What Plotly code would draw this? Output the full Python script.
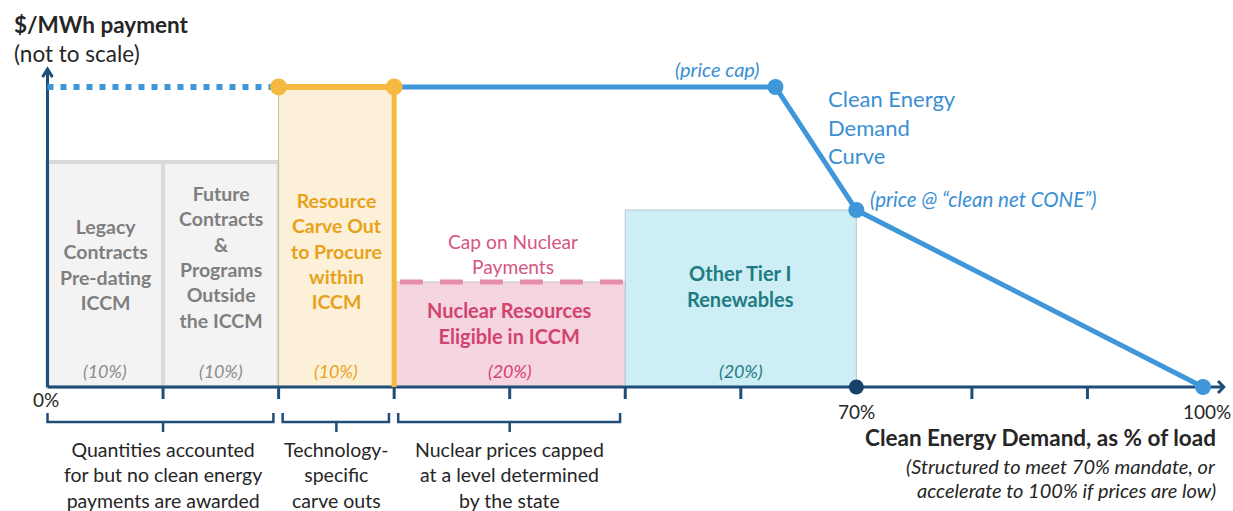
import plotly.graph_objects as go

# ---------------- data ----------------
seg_names = ["Legacy<br>Contracts<br>Pre-dating<br>ICCM",
             "Future<br>Contracts<br>&<br>Programs<br>Outside<br>the ICCM",
             "Resource<br>Carve Out<br>to Procure<br>within<br>ICCM",
             "Nuclear Resources<br>Eligible in ICCM",
             "Other Tier I<br>Renewables"]
seg_start = [0, 10, 20, 30, 50]
seg_width = [10, 10, 10, 20, 20]
seg_height = [75, 75, 100, 35, 59]
seg_share = ["(10%)", "(10%)", "(10%)", "(20%)", "(20%)"]
seg_label_y = [41, 43.3, 45.3, 21.3, 33.8]

price_cap = 100
nuclear_cap = 35
dotted_x = [0, 20]
carve_x = [20, 30]
curve_x = [30, 63, 70, 100]
curve_y = [100, 100, 59, 0]
curve_marker_x = [63, 70, 100]
curve_marker_y = [100, 59, 0]
mandate_x = 70

tick_values = [10, 20, 30, 40, 50, 60, 80, 90]
tick_labels = {0: "0%", 70: "70%", 100: "100%"}

bracket_ranges = [(0, 20), (20, 30), (30, 50)]
bracket_texts = ["Quantities accounted<br>for but no clean energy<br>payments are awarded",
                 "Technology-<br>specific<br>carve outs",
                 "Nuclear prices capped<br>at a level determined<br>by the state"]

x_title = "Clean Energy Demand, as % of load"
x_subtitle = ["(Structured to meet 70% mandate, or", "accelerate to 100% if prices are low)"]

# ---------------- style ----------------
FONT = "Lato"
NAVY = "#1F4E79"
BLUE = "#3F97DA"
BLUE_T = "#3A8FD3"
ORANGE = "#F5B942"
ORANGE_T = "#E8A21A"
GRAY_T = "#7F7F7F"
PINK_T = "#D2436F"
TEAL_T = "#1F7B83"
DARK = "#262626"

seg_fill = ["#F3F3F3", "#F3F3F3", "#FDF0D8", "#F5D5E0", "#CDEEF4"]
seg_line = ["#D9D9D9", "#D9D9D9", "#C9BBA6", "#C8C8C8", "#B5C9CD"]
seg_line_w = [4, 4, 1, 1, 1]
seg_text_col = [GRAY_T, GRAY_T, ORANGE_T, PINK_T, TEAL_T]

X0, X1 = -4.111, 102.596
Y0, Y1 = -41.33, 129.0

fig = go.Figure()

# boxes
fig.add_trace(go.Bar(
    x=[s + w / 2 for s, w in zip(seg_start, seg_width)],
    y=seg_height, width=seg_width, base=0,
    marker=dict(color=seg_fill, line=dict(color=seg_line, width=seg_line_w)),
    hoverinfo="skip"))

# nuclear cap dashed line
fig.add_trace(go.Scatter(x=[seg_start[3] + 0.5, seg_start[3] + seg_width[3]],
                         y=[nuclear_cap, nuclear_cap], mode="lines",
                         line=dict(color="#E48DAA", width=5, dash="23px,17px"),
                         hoverinfo="skip"))

# axes
fig.add_trace(go.Scatter(x=[0, 0], y=[0, 106], mode="lines",
                         line=dict(color=NAVY, width=3), hoverinfo="skip"))
fig.add_trace(go.Scatter(x=[-0.43, 0, 0.43], y=[103.3, 106, 103.3], mode="lines",
                         line=dict(color=NAVY, width=3), hoverinfo="skip"))
fig.add_trace(go.Scatter(x=[0, 101.8], y=[0, 0], mode="lines",
                         line=dict(color=NAVY, width=3), hoverinfo="skip"))
fig.add_trace(go.Scatter(x=[101.3, 101.8, 101.3], y=[2, 0, -2], mode="lines",
                         line=dict(color=NAVY, width=3), hoverinfo="skip"))
tx, ty = [], []
for t in tick_values:
    tx += [t, t, None]
    ty += [0, -4, None]
fig.add_trace(go.Scatter(x=tx, y=ty, mode="lines", line=dict(color=NAVY, width=3),
                         hoverinfo="skip"))

# brackets
bx, by = [], []
for a, b in bracket_ranges:
    l = a + (0.0 if a == 0 else 0.35)
    r = b - 0.45
    m = (a + b) / 2
    bx += [l, l, r, r, None, m, m, None]
    by += [-8.7, -11.7, -11.7, -8.7, None, -11.7, -15, None]
fig.add_trace(go.Scatter(x=bx, y=by, mode="lines", line=dict(color=NAVY, width=2.5),
                         hoverinfo="skip"))

# demand curve
fig.add_trace(go.Scatter(x=dotted_x, y=[price_cap] * 2, mode="lines",
                         line=dict(color=BLUE, width=6, dash="6px,7px"), hoverinfo="skip"))
fig.add_trace(go.Scatter(x=curve_x, y=curve_y, mode="lines",
                         line=dict(color=BLUE, width=5), hoverinfo="skip"))

# carve-out orange lines
fig.add_trace(go.Scatter(x=[carve_x[1], carve_x[1]], y=[price_cap, 0], mode="lines",
                         line=dict(color=ORANGE, width=5), hoverinfo="skip"))
fig.add_trace(go.Scatter(x=carve_x, y=[price_cap] * 2, mode="lines+markers",
                         line=dict(color=ORANGE, width=6),
                         marker=dict(color=ORANGE, size=17), hoverinfo="skip"))

# markers
fig.add_trace(go.Scatter(x=[mandate_x], y=[0], mode="markers",
                         marker=dict(color="#17406A", size=15), hoverinfo="skip"))
fig.add_trace(go.Scatter(x=curve_marker_x, y=curve_marker_y, mode="markers",
                         marker=dict(color=BLUE, size=16), hoverinfo="skip"))

ann = []


def A(x, y, text, size, color, bold=False, italic=False, xanchor="center", yanchor="middle", align="center"):
    t = text
    if bold:
        t = "<b>" + t + "</b>"
    if italic:
        t = "<i>" + t + "</i>"
    ann.append(dict(x=x, y=y, xref="x", yref="y", text=t, showarrow=False,
                    xanchor=xanchor, yanchor=yanchor, align=align,
                    font=dict(family=FONT, size=size, color=color)))


for i, (s, w, name, share, ly, col) in enumerate(zip(seg_start, seg_width, seg_names, seg_share, seg_label_y, seg_text_col)):
    A(s + w / 2, ly, name, 20 if i >= 3 else 19.5, col, bold=True)
    A(s + w / 2, 5.3, share, 18, col if col != GRAY_T else "#8C8C8C", italic=True)

A(40.3, 44.2, "Cap on Nuclear<br>Payments", 19.2, "#D6557F")

A(-3.07, 121, "$/MWh payment", 22.5, DARK, bold=True, xanchor="left")
A(-3.07, 111.3, "(not to scale)", 22.5, DARK, xanchor="left")

A(58, 106, "(price cap)", 20, BLUE_T, italic=True)
A(67.4, 86.8, "Clean Energy<br>Demand<br>Curve", 22, BLUE_T, xanchor="left", align="left")
A(71.0, 62.7, "(price @ “clean net CONE”)", 20.5, BLUE_T, italic=True, xanchor="left")

for v, lab in tick_labels.items():
    A(v - (0.15 if v == 0 else -0.35 if v == 100 else 0), -4.3 if v == 0 else -8, lab, 19, DARK)

for (a, b), txt in zip(bracket_ranges, bracket_texts):
    A((a + b) / 2, -29.3, txt, 19.5, DARK)

A(101.3, -16.7, x_title, 22.5, DARK, bold=True, xanchor="right")
A(101.3, -26.3, x_subtitle[0], 20, DARK, italic=True, xanchor="right")
A(101.3, -34.3, x_subtitle[1], 20, DARK, italic=True, xanchor="right")

fig.update_layout(
    width=1233, height=511,
    margin=dict(l=0, r=0, t=0, b=0),
    paper_bgcolor="white", plot_bgcolor="white",
    showlegend=False, barmode="overlay", hovermode=False,
    xaxis=dict(range=[X0, X1], visible=False, fixedrange=True),
    yaxis=dict(range=[Y0, Y1], visible=False, fixedrange=True),
    annotations=ann,
)

fig.write_html("out.html", post_script="document.body.style.margin='0px';",
               config={"displayModeBar": False})
